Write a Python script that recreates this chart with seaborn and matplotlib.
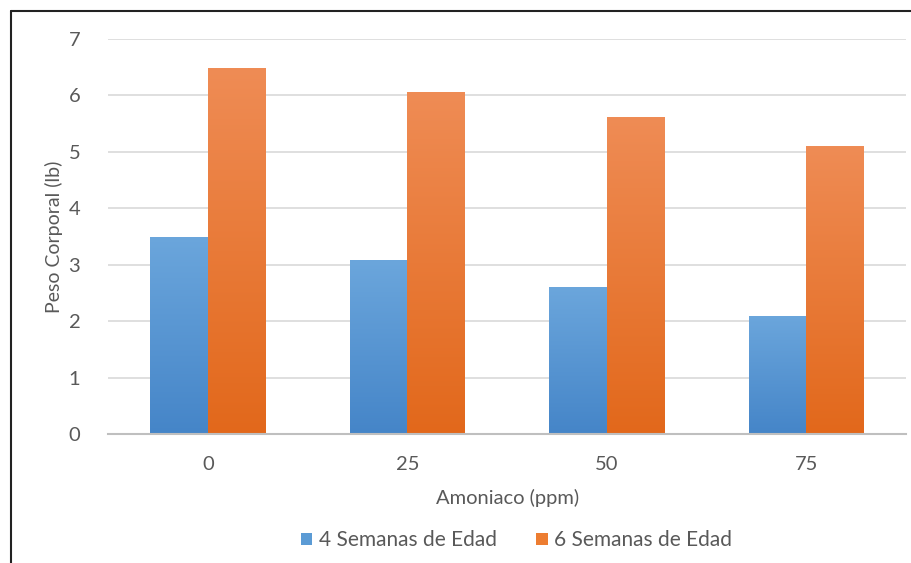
import numpy as np
import pandas as pd
import matplotlib
matplotlib.use("Agg")
import matplotlib.pyplot as plt
from matplotlib.colors import LinearSegmentedColormap
import seaborn as sns

categories = ["0", "25", "50", "75"]
series_names = ["4 Semanas de Edad", "6 Semanas de Edad"]
semanas4 = [3.5, 3.08, 2.6, 2.1]
semanas6 = [6.48, 6.06, 5.61, 5.1]
yticks = [0, 1, 2, 3, 4, 5, 6, 7]

df = pd.DataFrame({
    "Amoniaco": categories * 2,
    "Serie": [series_names[0]] * 4 + [series_names[1]] * 4,
    "Peso": semanas4 + semanas6,
})

sns.set_theme(style="white")
plt.rcParams['font.family'] = ['Lato', 'DejaVu Sans']
text_color = "#595959"
fs = 14.5

fig = plt.figure(figsize=(9.11, 5.63), dpi=100)
ax = fig.add_axes([0.1186, 0.229, 0.876, 0.7017])

palette = {series_names[0]: "#5B9BD5", series_names[1]: "#ED7D31"}
sns.barplot(data=df, x="Amoniaco", y="Peso", hue="Serie", order=categories,
            hue_order=series_names, palette=palette, width=0.575, gap=0,
            ax=ax, legend=True, saturation=1, edgecolor="none", linewidth=0)

ax.set_xlim(-0.5, 3.5)
ax.set_ylim(0, 7)
ax.set_yticks(yticks)
ax.set_yticklabels([str(t) for t in yticks])

# gradients
grads = {
    series_names[0]: LinearSegmentedColormap.from_list("b", ["#4585C8", "#6BA6DC"]),
    series_names[1]: LinearSegmentedColormap.from_list("o", ["#E2681B", "#EF8C55"]),
}
grad_img = np.linspace(0, 1, 256).reshape(-1, 1)
for container, name in zip(ax.containers, series_names):
    for bar in container:
        x0, y0 = bar.get_x(), bar.get_y()
        w, h = bar.get_width(), bar.get_height()
        im = ax.imshow(grad_img, cmap=grads[name], origin="lower", aspect="auto",
                       extent=[x0, x0 + w, y0, y0 + h], zorder=bar.get_zorder() + 0.1,
                       interpolation="bilinear")
        im.set_clip_path(bar)
ax.set_xlim(-0.5, 3.5)
ax.set_ylim(0, 7)

ax.grid(axis="y", color="#D9D9D9", linewidth=1.2)
ax.grid(axis="x", visible=False)
ax.set_axisbelow(True)
for s in ["top", "right", "left"]:
    ax.spines[s].set_visible(False)
ax.spines["bottom"].set_color("#BFBFBF")
ax.spines["bottom"].set_linewidth(1.5)

ax.tick_params(axis="both", length=0, labelsize=fs, colors=text_color)
ax.tick_params(axis="y", pad=20)
ax.tick_params(axis="x", pad=16)
ax.set_xlabel("Amoniaco (ppm)", fontsize=fs, color=text_color, labelpad=11)
ax.set_ylabel("Peso Corporal (lb)", fontsize=14, color=text_color, labelpad=4)

leg = ax.get_legend()
handles, labels = ax.get_legend_handles_labels()
leg.remove()
fig.legend(handles, labels, loc="center", bbox_to_anchor=(0.567, 0.04), ncol=2,
           frameon=False, fontsize=15, labelcolor=text_color,
           handlelength=0.55, handleheight=0.55, handletextpad=0.3, columnspacing=1.9)

# frame border (cropped on right/bottom)
fig.add_artist(plt.Line2D([11 / 911, 1.0], [1 - 11 / 563, 1 - 11 / 563],
                          transform=fig.transFigure, color="#222222", linewidth=1.5))
fig.add_artist(plt.Line2D([11 / 911, 11 / 911], [0.0, 1 - 11 / 563],
                          transform=fig.transFigure, color="#222222", linewidth=1.5))

fig.savefig("out.png", dpi=100, facecolor="white")
